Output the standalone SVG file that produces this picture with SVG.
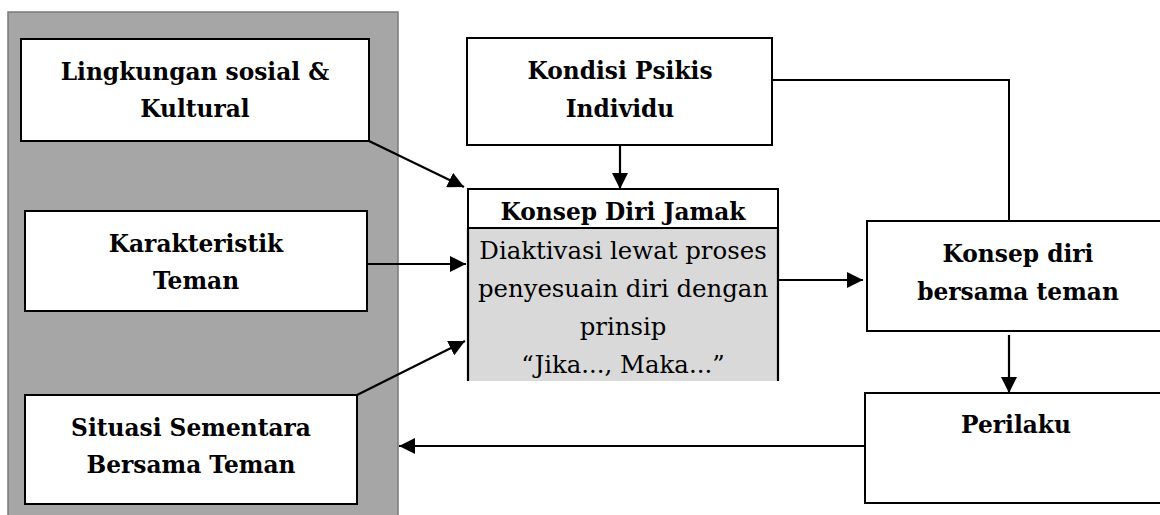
<svg xmlns="http://www.w3.org/2000/svg" width="1160" height="515" viewBox="0 0 1160 515">
<style>
.box{fill:#fff;stroke:#000;stroke-width:2}
.b{font-family:"DejaVu Serif","Liberation Serif",serif;font-weight:bold;font-size:23.3px;fill:#000;text-anchor:middle}
.r{font-family:"DejaVu Serif","Liberation Serif",serif;font-size:24.4px;fill:#000;text-anchor:middle}
.ln{fill:none;stroke:#000;stroke-width:2.2}
</style>
<defs>
<marker id="ah" viewBox="0 0 16 16" refX="16" refY="8" markerWidth="16" markerHeight="16" markerUnits="userSpaceOnUse" orient="auto">
<path d="M0,0 L16,8 L0,16 Z" fill="#000"/>
</marker>
</defs>
<rect width="1160" height="515" fill="#fff"/>
<g id="panel">
<rect x="8" y="12" width="390" height="510" fill="#a6a6a6" stroke="#7a7a7a" stroke-width="1.5"/>
</g>
<g id="lingkungan">
<rect class="box" x="21" y="39" width="348" height="102"/>
<text class="b" x="195" y="80">Lingkungan sosial &amp;</text>
<text class="b" x="195" y="117">Kultural</text>
</g>
<g id="karakteristik">
<rect class="box" x="25" y="211" width="342" height="100"/>
<text class="b" x="196" y="252">Karakteristik</text>
<text class="b" x="196" y="289">Teman</text>
</g>
<g id="situasi">
<rect class="box" x="25" y="395" width="332" height="109"/>
<text class="b" x="191" y="436">Situasi Sementara</text>
<text class="b" x="191" y="473">Bersama Teman</text>
</g>
<g id="kondisi">
<rect class="box" x="467" y="38" width="305" height="107"/>
<text class="b" x="620" y="79">Kondisi Psikis</text>
<text class="b" x="620" y="117">Individu</text>
</g>
<g id="konsep-jamak">
<rect x="468" y="228" width="310" height="153" fill="#d9d9d9"/>
<path class="ln" d="M468,228 V381 M778,228 V381"/>
<rect class="box" x="468" y="189" width="310" height="39"/>
<text class="b" x="623" y="220">Konsep Diri Jamak</text>
<text class="r" x="623" y="259">Diaktivasi lewat proses</text>
<text class="r" x="623" y="297">penyesuain diri dengan</text>
<text class="r" x="623" y="335">prinsip</text>
<text class="r" x="623" y="373">“Jika..., Maka...”</text>
</g>
<g id="konsep-bersama">
<rect class="box" x="867" y="221" width="300" height="110"/>
<text class="b" x="1018" y="262">Konsep diri</text>
<text class="b" x="1018" y="300">bersama teman</text>
</g>
<g id="perilaku">
<rect class="box" x="865" y="393" width="300" height="110"/>
<text class="b" x="1016" y="433">Perilaku</text>
</g>
<g id="connectors">
<line class="ln" x1="620" y1="145" x2="620" y2="189" marker-end="url(#ah)"/>
<path class="ln" d="M772,80 H1009 V221" style="stroke-width:2"/>
<line class="ln" x1="369" y1="141" x2="464" y2="187" marker-end="url(#ah)"/>
<line class="ln" x1="367" y1="264" x2="466" y2="264" marker-end="url(#ah)"/>
<line class="ln" x1="357" y1="395" x2="465" y2="341" marker-end="url(#ah)"/>
<line class="ln" x1="778" y1="280" x2="863" y2="280" marker-end="url(#ah)"/>
<line class="ln" x1="1009" y1="335" x2="1009" y2="393" marker-end="url(#ah)"/>
<line class="ln" x1="865" y1="446" x2="399" y2="446" marker-end="url(#ah)"/>
</g>
</svg>
